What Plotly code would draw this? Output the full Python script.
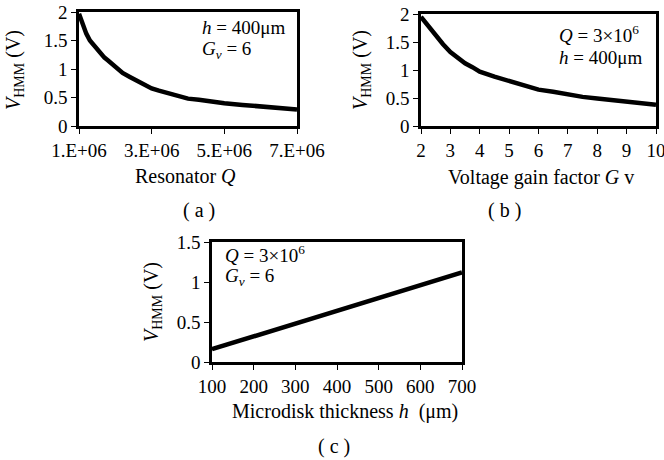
import plotly.graph_objects as go

# ---- data ----
q_values = [1.0e6, 1.1e6, 1.2e6, 1.3e6, 1.4e6, 1.5e6, 1.6e6, 1.7e6, 1.8e6, 1.9e6,
            2.0e6, 2.2e6, 2.4e6, 2.6e6, 2.8e6, 3.0e6, 3.2e6, 3.4e6, 3.6e6, 3.8e6,
            4.0e6, 4.3e6, 4.6e6, 5.0e6, 5.5e6, 6.0e6, 6.5e6, 7.0e6]
v_vs_q = [1.97, 1.78, 1.62, 1.50, 1.42, 1.34, 1.27, 1.20, 1.15, 1.10,
          1.04, 0.93, 0.86, 0.79, 0.72, 0.66, 0.62, 0.58, 0.56, 0.52,
          0.48, 0.46, 0.43, 0.40, 0.37, 0.34, 0.31, 0.29]

gv_values = [2, 2.25, 2.5, 2.75, 3, 3.25, 3.5, 3.75, 4, 4.5, 5, 5.5, 6, 6.5, 7,
             7.5, 8, 8.5, 9, 9.5, 10]
v_vs_gv = [1.95, 1.78, 1.62, 1.46, 1.32, 1.22, 1.12, 1.05, 0.97, 0.88, 0.80,
           0.72, 0.65, 0.61, 0.56, 0.52, 0.49, 0.46, 0.43, 0.40, 0.38]

h_values = [100, 200, 300, 400, 500, 600, 700]
v_vs_h = [0.16, 0.32, 0.48, 0.64, 0.80, 0.96, 1.12]

q_tickvals = [1e6, 3e6, 5e6, 7e6]
q_ticktext = ["1.E+06", "3.E+06", "5.E+06", "7.E+06"]
v_tickvals_ab = [0, 0.5, 1, 1.5, 2]
v_ticktext_ab = ["0", "0.5", "1", "1.5", "2"]
v_tickvals_c = [0, 0.5, 1, 1.5]
v_ticktext_c = ["0", "0.5", "1", "1.5"]
gv_tickvals = [2, 3, 4, 5, 6, 7, 8, 9, 10]
h_tickvals = [100, 200, 300, 400, 500, 600, 700]

W, H = 664, 460
FONT = "Liberation Serif"


def px(x):
    return x / W


def py(y):
    return 1 - y / H


fig = go.Figure()
line = dict(color="black", width=4.5)
fig.add_trace(go.Scatter(x=q_values, y=v_vs_q, mode="lines", line=line,
                         xaxis="x", yaxis="y", showlegend=False))
fig.add_trace(go.Scatter(x=gv_values, y=v_vs_gv, mode="lines", line=line,
                         xaxis="x2", yaxis="y2", showlegend=False))
fig.add_trace(go.Scatter(x=h_values, y=v_vs_h, mode="lines", line=line,
                         xaxis="x3", yaxis="y3", showlegend=False))

axis_common = dict(showline=True, mirror=True, linecolor="black", linewidth=2.5,
                   ticks="outside", ticklen=5, tickwidth=1, tickcolor="black",
                   showgrid=False, zeroline=False, automargin=False,
                   ticklabeloverflow="allow",
                   tickfont=dict(family=FONT, size=19, color="black"))

fig.update_layout(
    width=W, height=H,
    margin=dict(l=0, r=0, t=0, b=0, autoexpand=False),
    paper_bgcolor="white", plot_bgcolor="white",
    font=dict(family=FONT, color="black", size=19),
    xaxis=dict(domain=[px(79), px(297)], range=[1e6, 7e6], anchor="y",
               tickmode="array", tickvals=q_tickvals, ticktext=q_ticktext, **axis_common),
    yaxis=dict(domain=[py(126), py(12)], range=[0, 2], anchor="x",
               tickmode="array", tickvals=v_tickvals_ab, ticktext=v_ticktext_ab, **axis_common),
    xaxis2=dict(domain=[px(421), px(656)], range=[2, 10], anchor="y2",
                tickmode="array", tickvals=gv_tickvals, **axis_common),
    yaxis2=dict(domain=[py(126), py(14)], range=[0, 2], anchor="x2",
                tickmode="array", tickvals=v_tickvals_ab, ticktext=v_ticktext_ab, **axis_common),
    xaxis3=dict(domain=[px(212), px(462)], range=[100, 700], anchor="y3",
                tickmode="array", tickvals=h_tickvals, **axis_common),
    yaxis3=dict(domain=[py(362), py(242)], range=[0, 1.5], anchor="x3",
                tickmode="array", tickvals=v_tickvals_c, ticktext=v_ticktext_c, **axis_common),
)


def ann(text, x, y, size=20, xanchor="center", angle=0):
    fig.add_annotation(text=text, x=px(x), y=py(y), xref="paper", yref="paper",
                       showarrow=False, xanchor=xanchor, yanchor="middle",
                       textangle=angle, font=dict(family=FONT, size=size, color="black"))


ytitle = "<i>V</i><sub>HMM</sub> (V)"
# axis titles
ann("Resonator <i>Q</i>", 185, 176)
ann("Voltage gain factor <i>G</i> v", 541, 177)
ann("Microdisk thickness <i>h</i>  (μm)", 345, 411)
ann(ytitle, 14, 70, angle=-90)
ann(ytitle, 361, 70, angle=-90)
ann(ytitle, 152, 302, angle=-90)
# panel labels
ann("( a )", 199, 210)
ann("( b )", 504, 210)
ann("( c )", 334, 446)
# in-plot notes
ann("<i>h</i> = 400μm", 200, 28, size=19, xanchor="left")
ann("<i>G<sub>ν</sub></i> = 6", 200, 50, size=19, xanchor="left")
ann("<i>Q</i> = 3×10<sup>6</sup>", 557, 34, size=19, xanchor="left")
ann("<i>h</i> = 400μm", 557, 57, size=19, xanchor="left")
ann("<i>Q</i> = 3×10<sup>6</sup>", 223, 254, size=19, xanchor="left")
ann("<i>G<sub>ν</sub></i> = 6", 223, 277, size=19, xanchor="left")

fig.write_html("out.html")
